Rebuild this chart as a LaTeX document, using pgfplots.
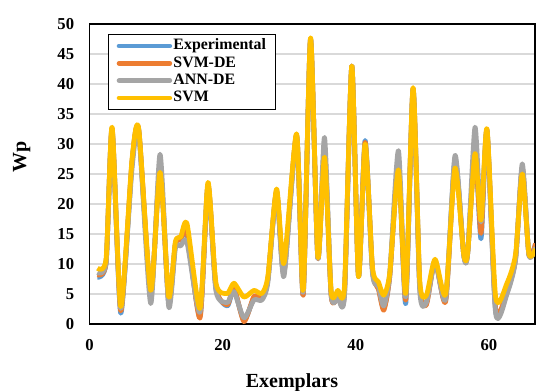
\documentclass[border=0pt]{standalone}
\usepackage{pgfplots}
\usepackage{pgfplotstable}
\pgfplotsset{compat=1.18}
\usepackage{fontspec}
\setmainfont{Liberation Serif}
\definecolor{cexp}{HTML}{5B9BD5}
\definecolor{csvmde}{HTML}{ED7D31}
\definecolor{cann}{HTML}{A5A5A5}
\definecolor{csvm}{HTML}{FFC000}
\definecolor{cgrid}{HTML}{D9D9D9}
\pgfplotstableread{
x exp svmde ann svm
1.2 7.8 8.2 8.6 9.3
2.5 10.2 10.3 10.4 10.9
3.4 32.5 32.6 32.3 32.8
4.7 1.8 2.2 2.6 2.9
6.4 27.0 27.2 26.0 27.5
7.4 32.3 32.4 31.8 32.5
9.2 5.0 5.2 3.4 5.6
10.6 26.0 26.0 28.3 25.3
11.9 3.5 3.6 2.9 4.5
12.9 13.3 13.3 12.6 13.7
13.7 14.0 14.0 13.0 14.5
14.65 15.0 15.4 13.6 16.7
16.6 1.2 1.0 2.0 2.6
17.8 23.0 23.2 23.0 23.6
19.0 6.0 6.0 5.5 6.8
20.7 3.0 3.2 3.6 5.1
21.7 5.8 6.1 5.4 6.8
23.2 0.6 0.4 1.0 4.5
24.7 4.3 4.6 4.0 5.6
25.9 4.3 4.3 4.0 5.1
26.8 7.5 7.5 7.0 8.0
28.1 22.0 22.2 22.0 22.5
29.2 8.5 8.5 7.9 10.1
31.1 31.4 31.5 31.3 31.7
32.1 4.9 4.8 5.3 5.6
33.2 47.5 47.5 47.3 47.7
34.3 11.0 11.0 11.0 11.2
35.3 29.0 29.0 31.1 27.8
36.3 4.8 4.7 5.0 5.4
37.3 4.6 4.6 4.4 5.6
38.3 5.2 5.2 4.8 6.3
39.4 43.0 43.0 42.8 43.0
40.4 8.0 8.0 7.9 7.9
41.4 30.6 30.3 29.8 30.0
42.5 9.0 9.0 8.5 9.5
43.4 6.0 5.8 6.2 7.0
44.2 2.6 2.3 3.0 4.8
45.1 8.0 8.0 8.5 8.5
46.4 26.5 26.5 28.9 25.7
47.5 3.4 4.0 4.5 5.1
48.6 39.2 39.2 39.0 39.4
49.6 6.5 6.5 5.6 7.3
50.6 3.5 3.2 3.6 4.8
51.9 10.5 10.5 10.3 10.8
53.5 4.0 3.8 4.2 5.0
54.9 27.5 27.0 28.1 26.0
56.2 11.6 11.6 11.6 11.7
56.8 11.8 11.8 11.8 11.9
57.9 29.0 29.0 32.8 28.4
58.8 14.2 15.1 17.0 17.3
59.7 32.3 32.3 32.0 32.5
61.0 2.2 2.5 1.8 4.5
62.7 5.3 5.5 5.0 6.8
64.0 11.0 11.0 10.8 11.7
65.0 26.0 26.0 26.7 25.0
66.0 11.5 11.5 11.5 11.7
67.0 13.4 13.4 12.8 12.5
}\datatable
\begin{document}
\begin{tikzpicture}
\useasboundingbox (-67.1pt,-49.5pt) rectangle (334.9pt,243pt);
\begin{axis}[
  at={(0,0)}, anchor=south west,
  scale only axis,
  width=334.1pt, height=225pt,
  xmin=0, xmax=66.9, ymin=0, ymax=50,
  xtick={0,20,40,60}, ytick={0,5,...,50},
  major tick length=0pt,
  ymajorgrids, grid style={cgrid, line width=1.1pt},
  axis line style={black, line width=1.1pt},
  /pgf/number format/assume math mode=true,
  ticklabel style={font=\bfseries\fontsize{12.5}{14}\selectfont},
  xticklabel style={yshift=-8pt},
  yticklabel style={xshift=-8pt},
  xlabel={Exemplars}, ylabel={Wp},
  label style={font=\bfseries\fontsize{15}{17}\selectfont},
  xlabel style={at={(axis description cs:0.4545,0)}, anchor=center, yshift=-44pt},
  ylabel style={at={(axis description cs:-0.152,0.557)}, anchor=center},
  legend style={at={(axis description cs:0.0415,0.967)}, anchor=north west,
    draw=black, line width=1.1pt, inner xsep=6pt, inner ysep=2pt,
    font=\bfseries\fontsize{11.9}{13}\selectfont,
    nodes={text height=8.5pt, text depth=2.5pt, inner sep=1pt},
    /tikz/every even column/.append style={column sep=4pt}},
  legend cell align=left,
  legend image code/.code={\draw[#1, line cap=round] (2pt,0pt) -- (40pt,0pt);},
  every axis plot/.append style={line width=3.6pt, smooth, tension=0.4, line join=round},
]
\addplot[cexp] table[x=x, y=exp] {\datatable};
\addplot[csvmde] table[x=x, y=svmde] {\datatable};
\addplot[cann] table[x=x, y=ann] {\datatable};
\addplot[csvm] table[x=x, y=svm] {\datatable};
\legend{Experimental, SVM-DE, ANN-DE, SVM}
\end{axis}
\end{tikzpicture}
\end{document}
